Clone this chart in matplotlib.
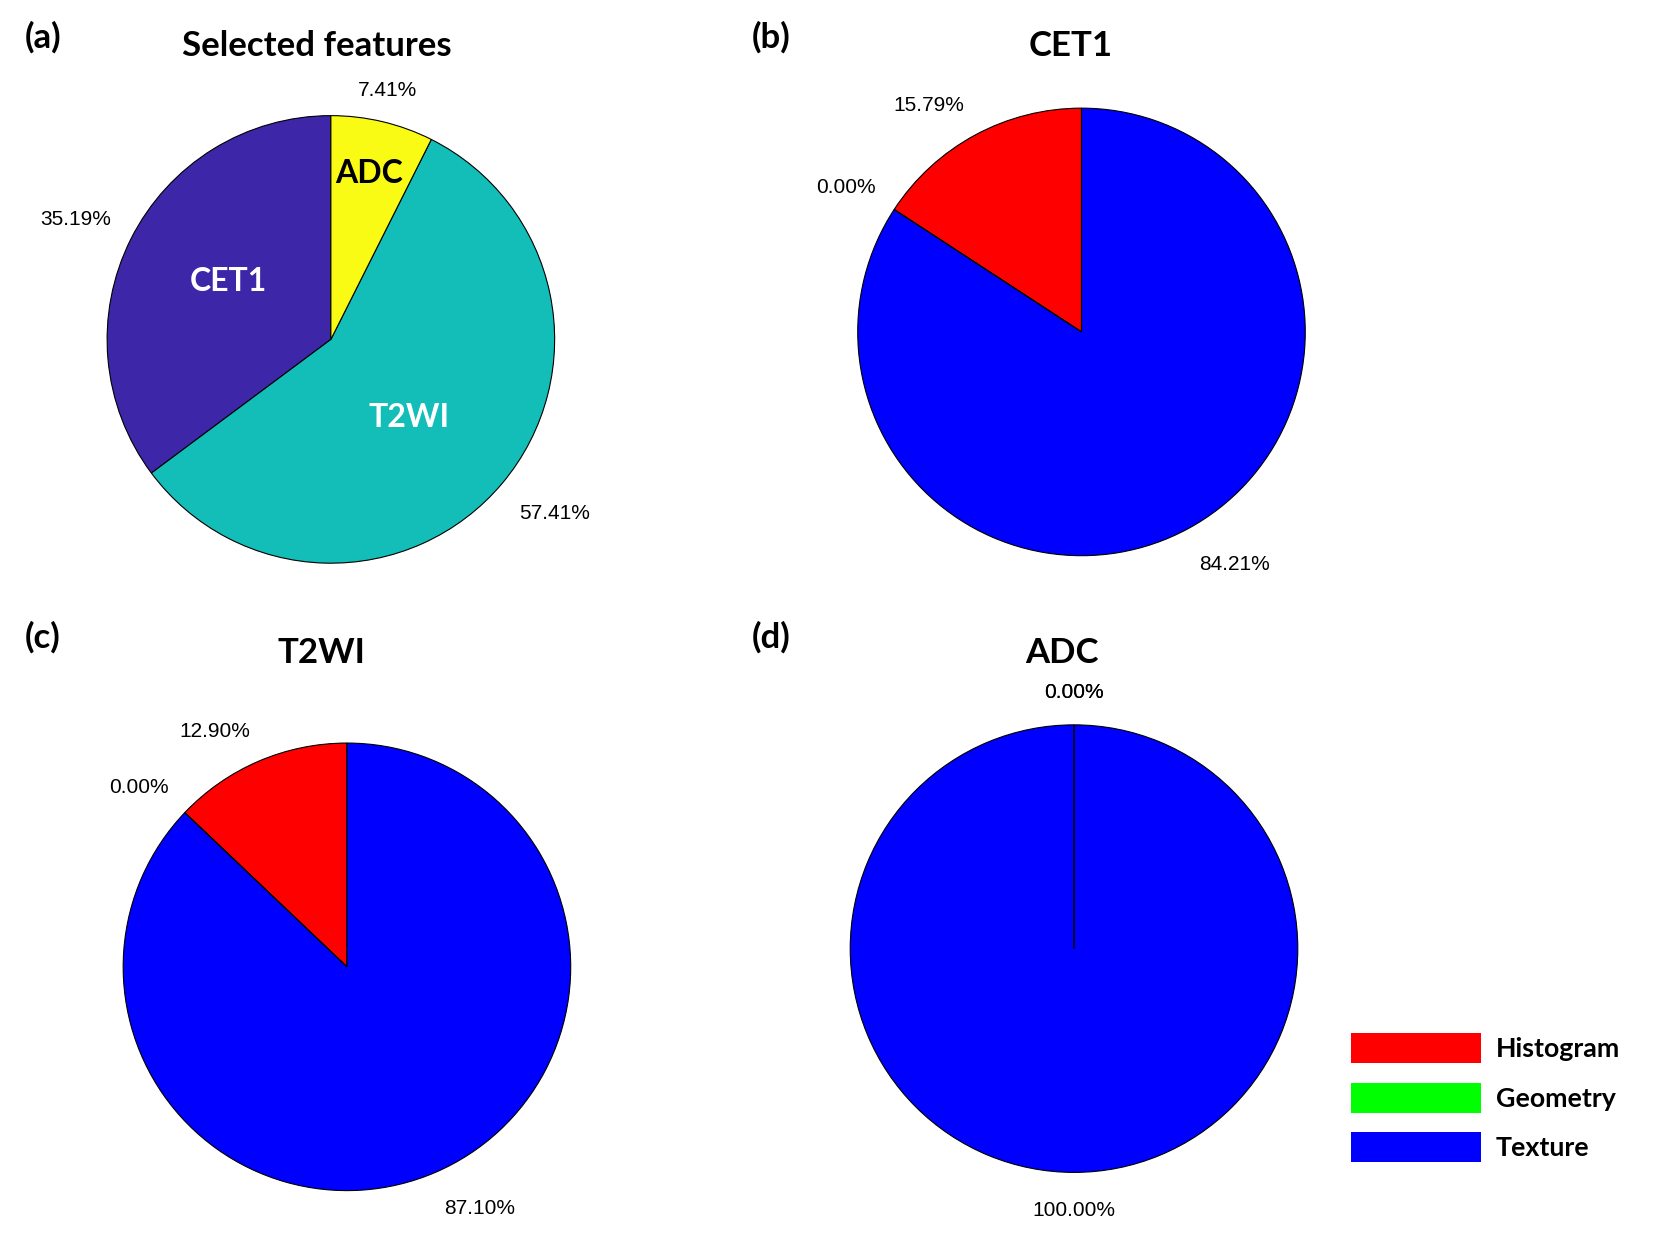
import matplotlib
matplotlib.use("Agg")
from matplotlib import pyplot as plt
from matplotlib.patches import Patch
import numpy as np

plt.rcParams['font.family'] = ['Lato', 'DejaVu Sans']

# data
seq_names = ['CET1', 'T2WI', 'ADC']
seq_pct = [35.19, 57.41, 7.41]
seq_colors = ['#3E26A8', '#14BEB8', '#F9FB15']
seq_text_colors = ['white', 'white', 'black']

feat_names = ['Histogram', 'Geometry', 'Texture']
feat_colors = ['#FF0000', '#00FF00', '#0000FF']
cet1_pct = [15.79, 0.00, 84.21]
t2wi_pct = [12.90, 0.00, 87.10]
adc_pct = [0.00, 0.00, 100.00]

W, H = 1568.0, 1160.0  # layout measured on the shrunk reference
R = 209.0

fig = plt.figure(figsize=(16.79, 12.42), dpi=100)


def pie_axes(cx, cy):
    ax = fig.add_axes([(cx - R) / W, 1 - (cy + R) / H, 2 * R / W, 2 * R / H])
    return ax


def draw_pie(ax, vals, colors):
    wedges, _ = ax.pie(vals, colors=colors, startangle=90, counterclock=True,
                       radius=1.0, normalize=True,
                       wedgeprops=dict(edgecolor='black', linewidth=0.8))
    ax.set_xlim(-1, 1)
    ax.set_ylim(-1, 1)
    ax.set_aspect('equal')
    ax.axis('off')
    for w, v in zip(wedges, vals):
        w.set_clip_on(False)
        if v == 0:
            # zero slices still show their edge line, as in the original
            w.set_zorder(5)
        ang = np.deg2rad((w.theta1 + w.theta2) / 2)
        x, y = 1.1 * np.cos(ang), 1.1 * np.sin(ang)
        if abs(np.cos(ang)) < 0.3:
            ha = 'center'
        elif x > 0:
            ha = 'left'
        else:
            ha = 'right'
        if y > 0:
            va, dy = 'bottom', 0
        else:
            va, dy = 'top', -4.5
        ax.annotate('%.2f%%' % v, (x, y), xytext=(0, dy),
                    textcoords='offset points', ha=ha, va=va, fontsize=15,
                    family=['Liberation Sans', 'DejaVu Sans'],
                    annotation_clip=False)
    return wedges


# (a)
ax_a = pie_axes(309, 317)
wa = draw_pie(ax_a, seq_pct, seq_colors)
inner_pos = {'CET1': (-0.46, 0.26), 'T2WI': (0.35, -0.35), 'ADC': (0.17, 0.74)}
for name, tc in zip(seq_names, seq_text_colors):
    px, py = inner_pos[name]
    ax_a.text(px, py, name, ha='center', va='center', fontsize=23,
              fontweight='bold', color=tc)

# (b)
ax_b = pie_axes(1010, 310)
draw_pie(ax_b, cet1_pct, feat_colors)
# (c)
ax_c = pie_axes(324, 903)
draw_pie(ax_c, t2wi_pct, feat_colors)
# (d)
ax_d = pie_axes(1003, 886)
draw_pie(ax_d, adc_pct, feat_colors)

titles = [('Selected features', 296, 43), ('CET1', 1000, 43),
          ('T2WI', 300, 610), ('ADC', 992, 610)]
for t, x, y in titles:
    fig.text(x / W, 1 - y / H, t, ha='center', va='center', fontsize=25,
             fontweight='bold')

letters = [('(a)', 40, 35), ('(b)', 720, 35), ('(c)', 40, 595), ('(d)', 720, 595)]
for t, x, y in letters:
    fig.text(x / W, 1 - y / H, t, ha='center', va='center', fontsize=25,
             fontweight='bold')

handles = [Patch(facecolor=c, edgecolor='none') for c in feat_colors]
fig.legend(handles, feat_names, loc='upper left',
           bbox_to_anchor=(1262 / W, 1 - 965 / H), frameon=False,
           prop={'weight': 'bold', 'size': 19.3},
           handlelength=4.85, handleheight=1.35, handletextpad=0.55,
           labelspacing=0.72, borderpad=0, borderaxespad=0)

fig.savefig('out.png', dpi=100, facecolor='white')
